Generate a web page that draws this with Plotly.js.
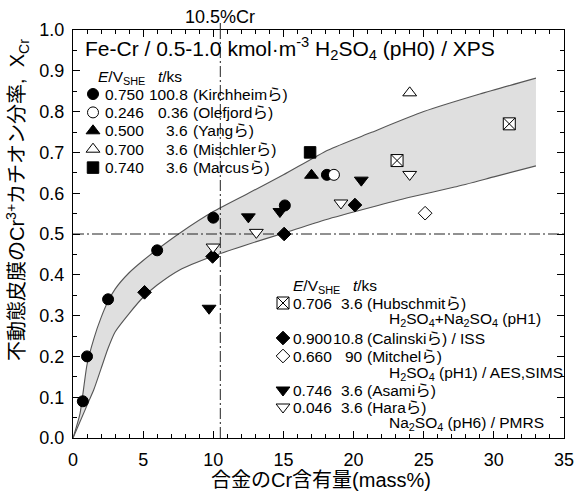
<!DOCTYPE html>
<html><head><meta charset="utf-8">
<script src="https://cdn.plot.ly/plotly-3.0.1.min.js"></script>
<style>html,body{margin:0;padding:0;background:#fff}</style>
</head><body><div id="chart" style="width:576px;height:492px"></div>
<script>
// ---- data ----
const kirchheimX = [0.7, 1.0, 2.5, 6.0, 10.0, 15.1, 18.1];
const kirchheimY = [0.09, 0.20, 0.34, 0.46, 0.54, 0.57, 0.645];
const olefjordX = [18.6];
const olefjordY = [0.645];
const yangX = [17.0];
const yangY = [0.644];
const mischlerX = [24.0];
const mischlerY = [0.846];
const marcusX = [16.9];
const marcusY = [0.70];
const hubschmitX = [23.1, 31.1];
const hubschmitY = [0.68, 0.77];
const calinskiX = [5.1, 9.95, 15.05, 20.1];
const calinskiY = [0.357, 0.445, 0.50, 0.571];
const mitchelX = [25.1];
const mitchelY = [0.551];
const asamiX = [9.7, 12.5, 14.75, 20.55];
const asamiY = [0.318, 0.542, 0.555, 0.632];
const haraX = [9.98, 13.07, 19.1, 24.0];
const haraY = [0.468, 0.504, 0.576, 0.646];

// band (upper / lower boundary curves)
const upperX = [0, 0.5, 1, 1.5, 2, 2.5, 3, 4, 5, 6, 7.6, 10, 12.5, 15, 18.2, 21.2, 25, 29, 33];
const upperY = [0, 0.06, 0.18, 0.245, 0.295, 0.335, 0.365, 0.405, 0.435, 0.462, 0.502, 0.555, 0.6, 0.645, 0.706, 0.748, 0.80, 0.843, 0.882];
const lowerX = [0, 1, 1.5, 2, 2.5, 3, 4, 5, 6, 7.6, 10, 12.5, 15, 18, 21.2, 24, 27.2, 30, 33];
const lowerY = [0, 0.08, 0.12, 0.17, 0.22, 0.26, 0.305, 0.345, 0.375, 0.412, 0.446, 0.475, 0.502, 0.535, 0.565, 0.59, 0.615, 0.64, 0.667];

const crThreshold = 10.5;
const halfFraction = 0.5;

// legend contents
const legend1Authors = ['Kirchheim', 'Olefjord', 'Yang', 'Mischler', 'Marcus'];
const legend1Potentials = ['0.750', '0.246', '0.500', '0.700', '0.740'];
const legend1Times = ['100.8', '0.36', '3.6', '3.6', '3.6'];
const legend2Authors = ['Hubschmit', 'Calinski', 'Mitchel', 'Asami', 'Hara'];
const legend2Potentials = ['0.706', '0.900', '0.660', '0.746', '0.046'];
const legend2Times = ['3.6', '10.8', '90', '3.6', '3.6'];
const legend2Suffix = ['', ' / ISS', '', '', ''];
const legend2Notes = ['H<sub>2</sub>SO<sub>4</sub>+Na<sub>2</sub>SO<sub>4</sub> (pH1)', '', 'H<sub>2</sub>SO<sub>4</sub> (pH1) / AES,SIMS', '', 'Na<sub>2</sub>SO<sub>4</sub> (pH6) / PMRS'];

// ---- styles ----
const FONT = 'Liberation Sans, Arial, Noto Sans CJK JP, sans-serif';
const L = 73, R = 12, T = 30, B = 54, W = 576, H = 492;
const PW = W - L - R, PH = H - T - B;
const sym = {
  Kirchheim: {symbol: 'circle', color: 'black', size: 11},
  Olefjord: {symbol: 'circle', color: 'white', size: 11},
  Yang: {symbol: 'triangle-up', color: 'black', size: 12},
  Mischler: {symbol: 'triangle-up', color: 'white', size: 12},
  Marcus: {symbol: 'square', color: 'black', size: 11.5},
  Hubschmit: {symbol: 'square-x', color: 'white', size: 12},
  Calinski: {symbol: 'diamond', color: 'black', size: 10.5},
  Mitchel: {symbol: 'diamond', color: 'white', size: 10.5},
  Asami: {symbol: 'triangle-down', color: 'black', size: 12},
  Hara: {symbol: 'triangle-down', color: 'white', size: 12}
};
function mk(name) {
  const s = sym[name];
  return {symbol: s.symbol, size: s.size, color: s.color, line: {color: 'black', width: 1}};
}

const traces = [];
traces.push({
  x: upperX.concat(lowerX.slice().reverse()),
  y: upperY.concat(lowerY.slice().reverse()),
  mode: 'lines', fill: 'toself', fillcolor: '#dfdfdf',
  line: {width: 0}, hoverinfo: 'skip', showlegend: false
});
traces.push({x: upperX, y: upperY, mode: 'lines', line: {color: '#555', width: 1.1, shape: 'spline', smoothing: 0.6}, showlegend: false});
traces.push({x: lowerX, y: lowerY, mode: 'lines', line: {color: '#555', width: 1.1, shape: 'spline', smoothing: 0.6}, showlegend: false});
const dd = '11px,3px,2px,3px';
traces.push({x: [crThreshold, crThreshold], y: [0, 1], mode: 'lines', line: {color: '#222', width: 1, dash: dd}, showlegend: false});
traces.push({x: [0, 35], y: [halfFraction, halfFraction], mode: 'lines', line: {color: '#222', width: 1, dash: dd}, showlegend: false});

const series = [
  ['Kirchheim', kirchheimX, kirchheimY],
  ['Olefjord', olefjordX, olefjordY],
  ['Yang', yangX, yangY],
  ['Mischler', mischlerX, mischlerY],
  ['Marcus', marcusX, marcusY],
  ['Hubschmit', hubschmitX, hubschmitY],
  ['Calinski', calinskiX, calinskiY],
  ['Mitchel', mitchelX, mitchelY],
  ['Hara', haraX, haraY],
  ['Asami', asamiX, asamiY]
];
series.forEach(([n, xs, ys]) => {
  traces.push({x: xs, y: ys, name: n, mode: 'markers', marker: mk(n), showlegend: false, cliponaxis: false});
});

// legend keys on a pixel-space overlay axis
const leg1X = 93, leg1Y0 = 94, leg1Dy = 18.4;
const leg2X = 283;
const leg2Rows = [303, 338, 356, 390, 407];
const leg2NoteRows = [320, null, 373, null, 423];
legend1Authors.forEach((n, i) => {
  traces.push({x: [leg1X], y: [leg1Y0 + i * leg1Dy], xaxis: 'x2', yaxis: 'y2', mode: 'markers', marker: mk(n), showlegend: false, cliponaxis: false, hoverinfo: 'skip'});
});
legend2Authors.forEach((n, i) => {
  traces.push({x: [leg2X], y: [leg2Rows[i]], xaxis: 'x2', yaxis: 'y2', mode: 'markers', marker: mk(n), showlegend: false, cliponaxis: false, hoverinfo: 'skip'});
});

function ann(text, px, py, xanchor, size, extra) {
  return Object.assign({text: text, x: (px - L) / PW, y: (H - B - py) / PH, xref: 'paper', yref: 'paper',
    xanchor: xanchor, yanchor: 'middle', showarrow: false, borderpad: 0,
    font: {family: FONT, size: size, color: 'black'}}, extra || {});
}
const LF = 15.5;
const anns = [];
anns.push(ann('Fe-Cr / 0.5-1.0 kmol·m<sup>-3</sup> H<sub>2</sub>SO<sub>4</sub> (pH0) / XPS', 84, 49, 'left', 21));
anns.push(ann('10.5%Cr', 220, 17, 'center', 18));
anns.push(ann('<i>E</i>/V<sub>SHE</sub>', 97, 77, 'left', LF));
anns.push(ann('<i>t</i>/ks', 157, 76, 'left', LF));
legend1Authors.forEach((n, i) => {
  const y = leg1Y0 + i * leg1Dy;
  anns.push(ann(legend1Potentials[i], 104, y, 'left', LF));
  anns.push(ann(legend1Times[i], 189, y, 'right', LF));
  anns.push(ann('(' + n + 'ら)', 192, y, 'left', LF));
});
anns.push(ann('<i>E</i>/V<sub>SHE</sub>', 292, 286, 'left', LF));
anns.push(ann('<i>t</i>/ks', 352, 285, 'left', LF));
legend2Authors.forEach((n, i) => {
  const y = leg2Rows[i];
  anns.push(ann(legend2Potentials[i], 292, y, 'left', LF));
  anns.push(ann(legend2Times[i], 364, y, 'right', LF));
  anns.push(ann('(' + n + 'ら)' + legend2Suffix[i], 366, y, 'left', LF));
  if (legend2Notes[i]) anns.push(ann(legend2Notes[i], 388, leg2NoteRows[i], 'left', LF));
});
anns.push(ann('合金のCr含有量(mass%)', 321, 480, 'center', 20));
anns.push(ann('不動態皮膜のCr<sup>3+</sup>カチオン分率,  X<sub>Cr</sub>', 18, 200, 'center', 20, {textangle: -90}));

const axisCommon = {
  showline: true, linecolor: 'black', linewidth: 1, mirror: 'allticks',
  ticks: 'inside', ticklen: 7, tickwidth: 1, tickcolor: 'black',
  showgrid: false, zeroline: false, tickfont: {family: FONT, size: 18, color: 'black'},
  fixedrange: true
};
const layout = {
  width: W, height: H,
  margin: {l: L, r: R, t: T, b: B, pad: 0},
  paper_bgcolor: 'white', plot_bgcolor: 'white',
  showlegend: false,
  xaxis: Object.assign({}, axisCommon, {range: [0, 35], dtick: 5, tick0: 0, ticklabelstandoff: 5,
    minor: {ticks: 'inside', dtick: 1, ticklen: 4, tickcolor: 'black', showgrid: false}}),
  yaxis: Object.assign({}, axisCommon, {range: [0, 1], dtick: 0.1, tick0: 0, tickformat: '.1f', ticklabelstandoff: 4,
    minor: {ticks: 'inside', dtick: 0.05, ticklen: 4, tickcolor: 'black', showgrid: false}}),
  xaxis2: {overlaying: 'x', anchor: 'y2', range: [L, W - R], visible: false, fixedrange: true},
  yaxis2: {overlaying: 'y', anchor: 'x2', range: [H - B, T], visible: false, fixedrange: true},
  shapes: [{type: 'line', xref: 'x', yref: 'paper', x0: crThreshold, x1: crThreshold, y0: 1, y1: 1 + 7 / PH,
    line: {color: '#222', width: 1, dash: dd}}],
  annotations: anns
};
Plotly.newPlot('chart', traces, layout, {staticPlot: true, displayModeBar: false});
</script></body></html>
